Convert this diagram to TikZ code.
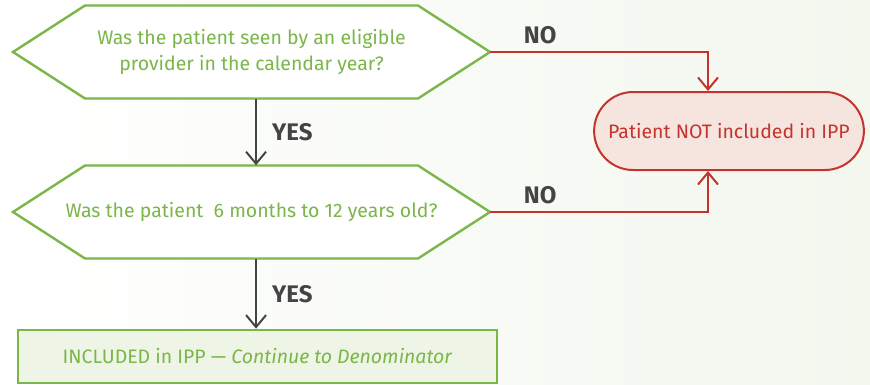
\documentclass[tikz,border=0pt]{standalone}
\usepackage{fontspec}
\setmainfont{Fira Sans}
\usetikzlibrary{arrows.meta,shapes.misc,positioning,backgrounds}

\definecolor{qgreen}{RGB}{122,182,72}
\definecolor{qgreenfill}{RGB}{239,245,230}
\definecolor{nored}{RGB}{196,52,44}
\definecolor{noredfill}{RGB}{246,228,223}
\definecolor{agray}{RGB}{68,68,68}
\definecolor{bggreen}{RGB}{243,247,238}

\begin{document}
\begin{tikzpicture}
[x=0.75pt, y=-0.75pt, font=\fontsize{14.6}{19}\selectfont,
question/.style={rectangle, text=qgreen, minimum width=249.75pt, minimum height=69.75pt, align=center, inner sep=0pt},
hexline/.style={draw=qgreen, fill=white, line width=1.8pt},
stopnode/.style={rounded rectangle, draw=nored, fill=noredfill, text=nored, line width=1.5pt, minimum width=209pt, minimum height=58.5pt},
endbox/.style={rectangle, draw=qgreen, fill=qgreenfill, text=qgreen, line width=1.8pt, minimum width=359pt, minimum height=40pt},
yesarrow/.style={-{Straight Barb[length=9pt,width=15pt]}, draw=agray, line width=1.5pt},
noarrow/.style={-{Straight Barb[length=9pt,width=15pt]}, draw=nored, line width=1.5pt},
lbl/.style={font=\fontsize{18}{20}\selectfont\bfseries, text=agray}
]
\useasboundingbox (0,0) rectangle (870,385);

% Questions
\node[question] (q1) at (251.5,52) {Was the patient seen by an eligible\\provider in the calendar year?};
\node[question] (q2) at (251.5,212) {Was the patient\ \ 6 months to 12 years old?};

% Outcomes
\node[stopnode] (stop) at (729,131) {Patient NOT included in IPP};
\node[endbox] (incl) at (257.5,356.5) {INCLUDED in IPP --- \textit{Continue to Denominator}};

% hexagon tips
\foreach \q in {q1,q2} {
  \coordinate (\q e) at ([xshift=178.9pt]\q.center);
}

\begin{scope}[on background layer]
% background
\fill[left color=white, right color=bggreen] (0,0) rectangle (870,385);
\foreach \q in {q1,q2} {
  \draw[hexline] (\q.center) ++(-166.5,-46.5) -- ++(333,0) -- ++(72,46.5) -- ++(-72,46.5) -- ++(-333,0) -- ++(-72,-46.5) -- cycle;
}
\end{scope}

% YES branches
\draw[yesarrow] ([xshift=3.4pt]q1.south) -- node[lbl, right=8pt] (yes1) {YES} ([xshift=3.4pt]q2.north);
\draw[yesarrow] ([xshift=3.4pt]q2.south) -- node[lbl, right=8pt] (yes2) {YES} ([xshift=3.4pt]q2.south |- incl.north);

% NO branches
\draw[noarrow] (q1e) -| node[lbl, pos=0.115, above=2pt] (no1) {NO} ([xshift=-15.75pt]stop.north);
\draw[noarrow] (q2e) -| node[lbl, pos=0.115, above=2pt] (no2) {NO} ([xshift=-15.75pt]stop.south);
\end{tikzpicture}
\end{document}
